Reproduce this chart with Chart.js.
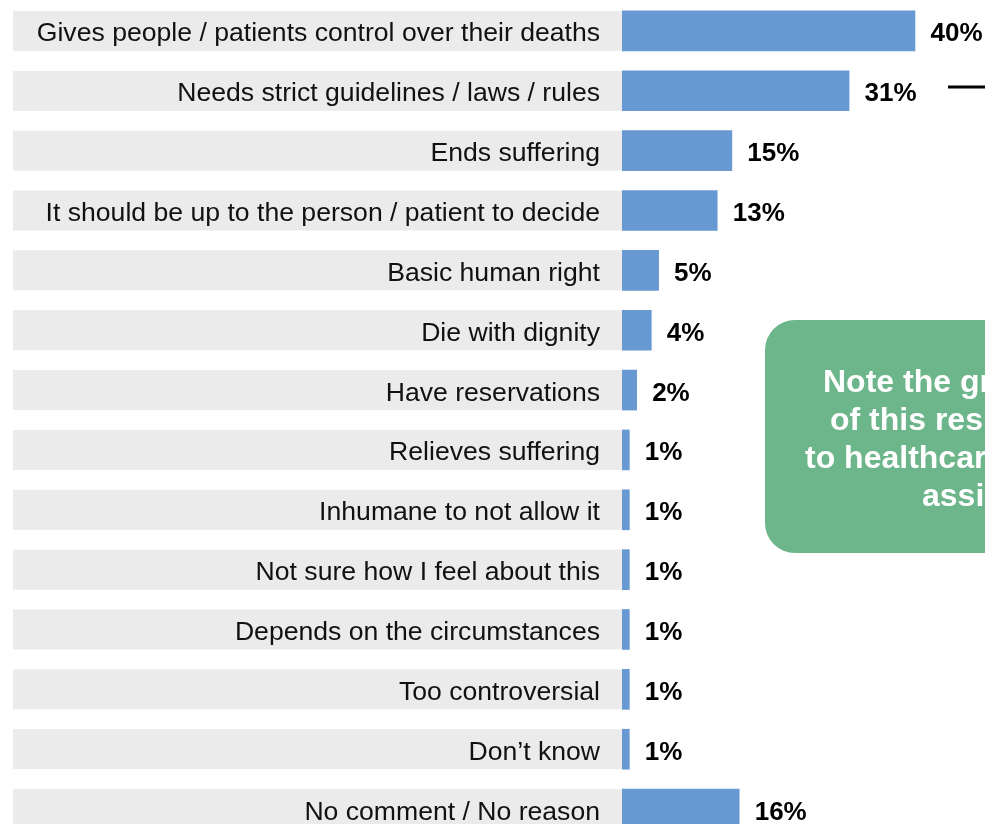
<!DOCTYPE html>
<html>
<head>
<meta charset="utf-8">
<script src="https://cdn.jsdelivr.net/npm/chart.js@4"></script>
<style>
  html, body { margin: 0; padding: 0; background: #ffffff; overflow: hidden; }
  #wrap { width: 985px; height: 824px; overflow: hidden; position: relative; }
  canvas { display: block; }
</style>
</head>
<body>
<div id="wrap"><canvas id="chart" width="985" height="840"></canvas></div>
<script>
// Reasons given, in display order (top to bottom)
const categories = [
  "Gives people / patients control over their deaths",
  "Needs strict guidelines / laws / rules",
  "Ends suffering",
  "It should be up to the person / patient to decide",
  "Basic human right",
  "Die with dignity",
  "Have reservations",
  "Relieves suffering",
  "Inhumane to not allow it",
  "Not sure how I feel about this",
  "Depends on the circumstances",
  "Too controversial",
  "Don\u2019t know",
  "No comment / No reason"
];

// Share of respondents (%)
const values = [40, 31, 15, 13, 5, 4, 2, 1, 1, 1, 1, 1, 1, 16];

// Callout text
const noteLines = [
  "Note the great similarity",
  "of this response compared",
  "to healthcare professionals\u2019",
  "assisted dying views"
];

const BAR_COLOR = "#6899D2";
const BAND_COLOR = "#EBEBEB";
const NOTE_COLOR = "#6DB58A";
const FONT = "'Liberation Sans', Arial, Helvetica, sans-serif";
const BAR_THICKNESS = 40;

// Grey bands behind the category labels, ending where the bars start
const bandPlugin = {
  id: "labelBands",
  beforeDatasetsDraw(chart) {
    const { ctx, scales: { x, y } } = chart;
    const x0 = x.getPixelForValue(0);
    ctx.save();
    ctx.fillStyle = BAND_COLOR;
    categories.forEach((c, i) => {
      const yc = y.getPixelForValue(i);
      ctx.fillRect(13, yc - BAR_THICKNESS / 2, x0 - 13, BAR_THICKNESS);
    });
    ctx.font = "26.6px " + FONT;
    ctx.fillStyle = "#111111";
    ctx.textAlign = "right";
    ctx.textBaseline = "alphabetic";
    categories.forEach((c, i) => {
      const yc = y.getPixelForValue(i);
      ctx.fillText(c, x0 - 22, yc + 10.5);
    });
    ctx.restore();
  }
};

// Bold value labels just past the end of each bar
const valueLabelPlugin = {
  id: "valueLabels",
  afterDatasetsDraw(chart) {
    const { ctx } = chart;
    const meta = chart.getDatasetMeta(0);
    ctx.save();
    ctx.font = "bold 26px " + FONT;
    ctx.fillStyle = "#000000";
    ctx.textAlign = "left";
    ctx.textBaseline = "alphabetic";
    meta.data.forEach((bar, i) => {
      ctx.fillText(values[i] + "%", bar.x + 15.5, bar.y + 10.5);
    });
    ctx.restore();
  }
};

// Green rounded callout box and its connector stub
const notePlugin = {
  id: "noteBox",
  afterDraw(chart) {
    const { ctx } = chart;
    ctx.save();
    // connector stub
    ctx.strokeStyle = "#000000";
    ctx.lineWidth = 3;
    ctx.beginPath();
    ctx.moveTo(948, 87);
    ctx.lineTo(990, 87);
    ctx.stroke();

    const bx = 765, by = 320, bw = 420, bh = 233, r = 30;
    ctx.fillStyle = NOTE_COLOR;
    ctx.beginPath();
    ctx.roundRect(bx, by, bw, bh, r);
    ctx.fill();

    ctx.fillStyle = "#ffffff";
    ctx.font = "bold 32px " + FONT;
    ctx.textAlign = "left";
    ctx.textBaseline = "alphabetic";
    const starts = [823, 830, 805, 922];
    const baselines = [392, 430, 468, 506];
    noteLines.forEach((t, i) => ctx.fillText(t, starts[i], baselines[i]));
    ctx.restore();
  }
};

new Chart(document.getElementById("chart"), {
  type: "bar",
  data: {
    labels: categories,
    datasets: [{
      data: values,
      backgroundColor: BAR_COLOR,
      borderWidth: 0,
      barThickness: BAR_THICKNESS
    }]
  },
  options: {
    indexAxis: "y",
    responsive: false,
    animation: false,
    devicePixelRatio: 1,
    layout: { padding: { left: 622, right: 0, top: 1, bottom: 1 } },
    plugins: { legend: { display: false }, tooltip: { enabled: false } },
    scales: {
      x: { display: false, min: 0, max: 49.56, grid: { display: false } },
      y: { display: false, grid: { display: false } }
    }
  },
  plugins: [bandPlugin, valueLabelPlugin, notePlugin]
});
</script>
</body>
</html>
